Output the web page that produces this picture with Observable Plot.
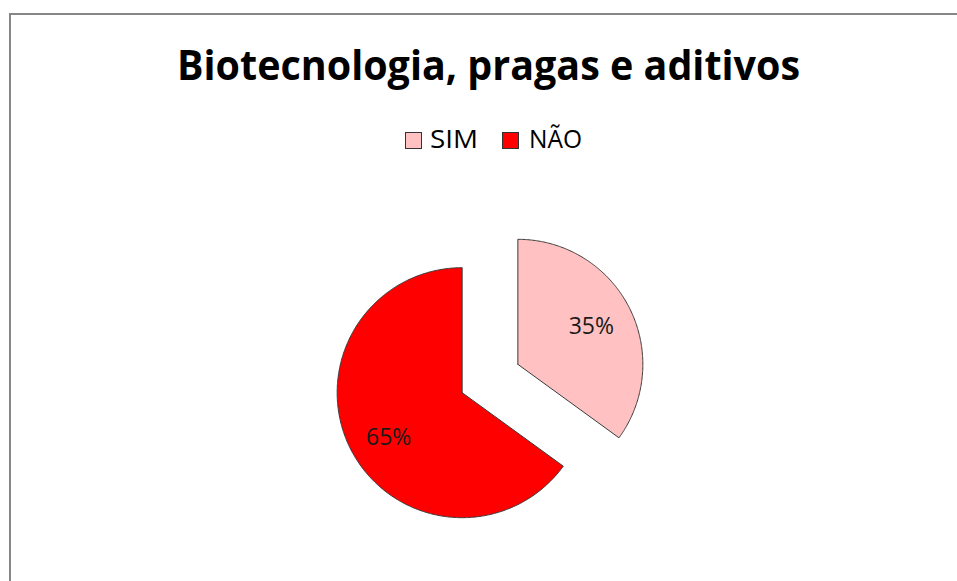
<!DOCTYPE html>
<html>
<head>
<meta charset="utf-8">
<script src="https://cdn.jsdelivr.net/npm/d3@7"></script>
<script src="https://cdn.jsdelivr.net/npm/@observablehq/plot@0.6"></script>
<style>
  html, body { margin: 0; padding: 0; background: #fff; overflow: hidden; }
  #wrap { position: relative; width: 957px; height: 581px; overflow: hidden; font-family: "Open Sans", sans-serif; }
  #frame { position: absolute; left: 9px; top: 13px; width: 1200px; height: 1200px; border-left: 2px solid #878787; border-top: 2px solid #878787; box-sizing: border-box; }
  #title { position: absolute; left: 10px; top: 43px; width: 957px; text-align: center; font-size: 42px; font-weight: 700; line-height: 42px; color: #000; white-space: nowrap; }
  #title span { display: inline-block; transform-origin: center; }
  #legend { position: absolute; left: 0; top: 0; font-size: 25px; line-height: 25px; color: #000; }
  .sw { position: absolute; width: 15px; height: 15px; border: 1px solid #333; top: 132px; }
  .lt { position: absolute; top: 126px; white-space: nowrap; transform-origin: left center; }
  #chart { position: absolute; left: 0; top: 0; }
</style>
</head>
<body>
<div id="wrap">
  <div id="chart"></div>
  <div id="frame"></div>
  <div id="title"><span id="tspan"></span></div>
  <div id="legend"></div>
</div>
<script>
const titleText = "Biotecnologia, pragas e aditivos";
const categories = ["SIM", "NÃO"];
const values = [35, 65];
const labels = ["35%", "65%"];
const colors = ["#ffc1c1", "#ff0000"];

// Title
const ts = document.getElementById("tspan");
ts.textContent = titleText;
const tw = ts.getBoundingClientRect().width;
ts.style.transform = `scaleX(${623 / tw})`;

// Legend (swatch left, text left, text width)
const legendLayout = [[405, 430, 48], [502, 529, 53]];
const leg = document.getElementById("legend");
categories.forEach((c, i) => {
  const [sx, tx, tww] = legendLayout[i];
  const sw = document.createElement("div");
  sw.className = "sw";
  sw.style.left = sx + "px";
  sw.style.background = colors[i];
  const t = document.createElement("span");
  t.className = "lt";
  t.style.left = tx + "px";
  t.textContent = c;
  leg.appendChild(sw); leg.appendChild(t);
  const w = t.getBoundingClientRect().width;
  t.style.transform = `scaleX(${tww / w})`;
});

// Pie geometry (in radius units)
const explode = 0.25;
const pie = d3.pie().sort(null).value(d => d.value);
const arcs = pie(categories.map((c, i) => ({key: c, value: values[i], label: labels[i]})));
const pts = [];
const labs = [];
arcs.forEach(a => {
  const m = (a.startAngle + a.endAngle) / 2;
  const cx = explode * Math.sin(m), cy = explode * Math.cos(m);
  const key = a.data.key;
  pts.push({key, x: cx, y: cy});
  const n = Math.max(2, Math.ceil((a.endAngle - a.startAngle) / 0.01));
  for (let k = 0; k <= n; k++) {
    const t = a.startAngle + (a.endAngle - a.startAngle) * k / n;
    pts.push({key, x: cx + Math.sin(t), y: cy + Math.cos(t)});
  }
  pts.push({key, x: cx, y: cy});
  labs.push({key, label: a.data.label, x: cx + 0.66 * Math.sin(m), y: cy + 0.66 * Math.cos(m) - (Math.cos(m) < 0 ? 0.06 : 0)});
});

const W = 957, H = 581, R = 125, CX = 489.5, CY = 378;
const plot = Plot.plot({
  width: W, height: H,
  margin: 0,
  x: {domain: [-CX / R, (W - CX) / R], axis: null},
  y: {domain: [-(H - CY) / R, CY / R], axis: null},
  color: {domain: categories, range: colors},
  marks: [
    Plot.line(pts, {x: "x", y: "y", z: "key", fill: "key", stroke: "#3a3a3a", strokeWidth: 1, curve: "linear"}),
    Plot.text(labs, {x: "x", y: "y", text: "label", fontSize: 23, fill: "#1a1a1a", fontFamily: "Open Sans"})
  ]
});
document.getElementById("chart").appendChild(plot);
</script>
</body>
</html>
